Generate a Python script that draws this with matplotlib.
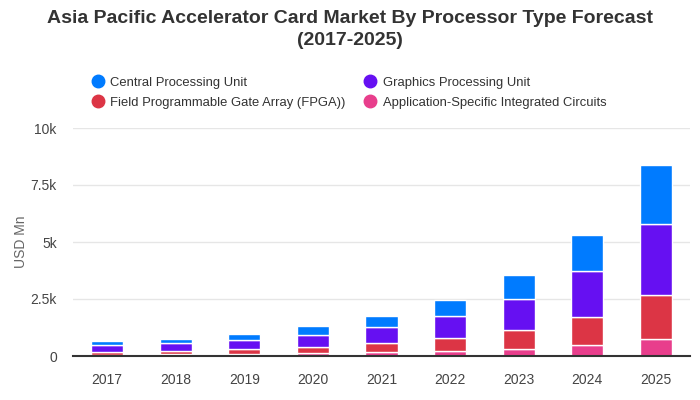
"""Asia Pacific accelerator card market, stacked bars by processor type."""

import matplotlib

matplotlib.use("Agg")
import matplotlib.pyplot as plt
from matplotlib.lines import Line2D
from matplotlib.ticker import FuncFormatter

plt.rcParams["font.family"] = ["Liberation Sans", "DejaVu Sans"]

years = ["2017", "2018", "2019", "2020", "2021", "2022", "2023", "2024", "2025"]
asic = [50, 88, 88, 132, 175, 219, 307, 482, 746]
fpga = [125, 144, 219, 263, 395, 570, 833, 1229, 1929]
gpu = [307, 338, 408, 526, 702, 965, 1360, 2017, 3114]
cpu = [158, 190, 263, 408, 496, 715, 1066, 1592, 2571]

_CPU = "#007bff"
_GPU = "#6610f2"
_FPGA = "#dc3545"
_ASIC = "#e83e8c"
_TEXT = "#333333"
_TICK = "#444444"
_MUTED = "#666666"
_GRID = "#e6e6e6"

fig = plt.figure(figsize=(7, 4), dpi=100)
ax = fig.add_axes([0.104, 0.11, 0.882, 0.57])

x = range(len(years))
w = 0.47
bottom = [0.0] * len(years)
for vals, col in [(asic, _ASIC), (fpga, _FPGA), (gpu, _GPU), (cpu, _CPU)]:
    ax.bar(x, vals, w, bottom=bottom, color=col, edgecolor="white", linewidth=1, zorder=3)
    bottom = [b + v for b, v in zip(bottom, vals)]

ax.set_xlim(-0.5, len(years) - 0.5)
ax.set_ylim(0, 10000)
ax.set_yticks([0, 2500, 5000, 7500, 10000])
ax.yaxis.set_major_formatter(FuncFormatter(lambda v, _: "0" if v == 0 else f"{v / 1000:g}k"))
ax.set_xticks(list(x))
ax.set_xticklabels(years)
ax.tick_params(axis="both", length=0, labelsize=10, colors=_TICK)
ax.tick_params(axis="x", pad=12)
ax.tick_params(axis="y", pad=11.5)
ax.grid(axis="y", color=_GRID, linewidth=1, zorder=0)
for side in ["top", "right", "left"]:
    ax.spines[side].set_visible(False)
ax.spines["bottom"].set_color(_TEXT)
ax.spines["bottom"].set_linewidth(1.5)
ax.spines["bottom"].set_zorder(4)
ax.set_ylabel("USD Mn", color=_MUTED, fontsize=10)
ax.yaxis.set_label_coords(-0.073, 0.5)

fig.text(0.5, 0.975, "Asia Pacific Accelerator Card Market By Processor Type Forecast\n(2017-2025)",
         ha="center", va="top", fontsize=14, fontweight="bold", color=_TEXT, linespacing=1.4)

def dot(c):
    return Line2D([], [], marker="o", linestyle="", markersize=9, color=c)

handles = [dot(_CPU), dot(_FPGA), dot(_GPU), dot(_ASIC)]
labels = ["Central Processing Unit", "Field Programmable Gate Array (FPGA))",
          "Graphics Processing Unit", "Application-Specific Integrated Circuits"]
fig.legend(handles, labels, ncol=2, loc="upper left", bbox_to_anchor=(0.123, 0.822),
           frameon=False, fontsize=9.4, handletextpad=0.45, columnspacing=1.4,
           labelspacing=0.62, handlelength=1.0, borderaxespad=0, labelcolor=_TEXT)

fig.savefig("out.png", dpi=100, facecolor="white")
